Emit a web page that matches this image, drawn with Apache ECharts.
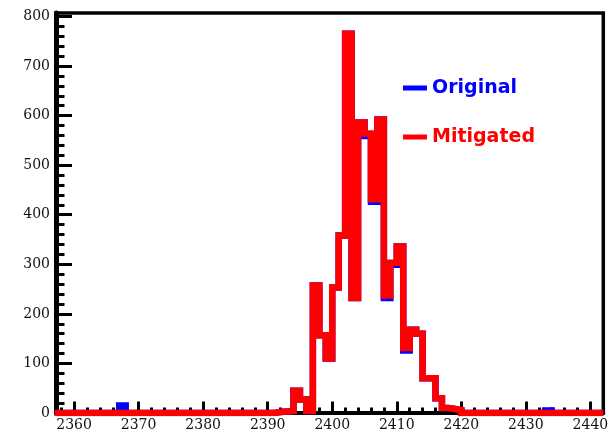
<!DOCTYPE html>
<html><head><meta charset="utf-8">
<script src="https://cdn.jsdelivr.net/npm/echarts@6/dist/echarts.min.js"></script>
<style>html,body{margin:0;padding:0;background:#fff}#c{width:616px;height:434px}</style>
</head><body><div id="c"></div><script>
// Histogram bins: first bin left edge, unit bin width
const binStart = 2357;
const binWidth = 1;
// Original (bins 2357 .. 2441)
const original = [
  0,0,0,0,0,0,0,0,0,0,
  15,
  0,0,0,0,0,0,0,0,0,0,0,0,0,0,0,0,0,0,0,0,0,0,0,
  2,3,4,45,27,4,257,157,110,253,
  358,765,232,586,559,426,592,232,299,336,
  126,168,160,70,70,30,10,8,6,0,
  0,0,0,0,0,0,0,0,0,0,0,0,
  5,
  0,0,0,0,0,0,0,0
];
// Mitigated (bins 2357 .. 2441)
const mitigated = [
  0,0,0,0,0,0,0,0,0,0,
  0,
  0,0,0,0,0,0,0,0,0,0,0,0,0,0,0,0,0,0,0,0,0,0,0,
  2,3,4,45,27,4,257,157,110,253,
  358,765,232,586,564,431,592,237,303,336,
  131,168,160,70,70,30,10,8,6,0,
  0,0,0,0,0,0,0,0,0,0,0,0,
  0,
  0,0,0,0,0,0,0,0
];
const seriesNames = ['Original', 'Mitigated'];
const seriesColors = ['#0000ff', '#ff0000'];
const xRange = [2357.2, 2442];
const yRange = [0, 807];
const xMajorTicks = [2360, 2370, 2380, 2390, 2400, 2410, 2420, 2430, 2440];
const yMajorTicks = [0, 100, 200, 300, 400, 500, 600, 700, 800];
const xMinorTicks = [];
for (let v = 2358; v <= 2442; v += 2) if (v % 10 !== 0) xMinorTicks.push(v);
const yMinorTicks = [];
for (let v = 20; v < 800; v += 20) if (v % 100 !== 0) yMinorTicks.push(v);

function histData(vals) {
  const d = vals.map((v, i) => [binStart + i * binWidth, v]);
  d.push([binStart + vals.length * binWidth, vals[vals.length - 1]]);
  return d;
}

const chart = echarts.init(document.getElementById('c'), null, {renderer: 'canvas'});
const labelFont = {fontFamily: 'DejaVu Serif', fontSize: 14, color: '#111'};
chart.setOption({
  animation: false,
  backgroundColor: '#fff',
  grid: {left: 56, top: 13, right: 12.7, bottom: 21, show: true, borderColor: '#000', borderWidth: 3.5, backgroundColor: 'transparent'},
  legend: {
    orient: 'vertical', left: 403, top: 76, padding: 0,
    itemWidth: 24, itemHeight: 5, itemGap: 25, icon: 'rect',
    textStyle: {fontFamily: 'DejaVu Sans', fontWeight: 'bold', fontSize: 19, lineHeight: 24},
    data: seriesNames.map((n, i) => ({name: n, textStyle: {color: seriesColors[i]}}))
  },
  xAxis: [
    {type: 'value', min: xRange[0], max: xRange[1], position: 'bottom',
     axisLine: {show: true, onZero: false, lineStyle: {color: '#000', width: 4}},
     axisTick: {show: true, inside: true, length: 11.5, customValues: xMajorTicks, lineStyle: {color: '#000', width: 3}},
     axisLabel: {customValues: xMajorTicks, margin: 5, formatter: v => String(v), ...labelFont},
     splitLine: {show: false}},
    {type: 'value', min: xRange[0], max: xRange[1], position: 'bottom',
     axisLine: {show: false},
     axisTick: {show: true, inside: true, length: 5.5, customValues: xMinorTicks, lineStyle: {color: '#000', width: 3}},
     axisLabel: {show: false}, splitLine: {show: false}}
  ],
  yAxis: [
    {type: 'value', min: yRange[0], max: yRange[1], position: 'left',
     axisLine: {show: true, onZero: false, lineStyle: {color: '#000', width: 5}},
     axisTick: {show: true, inside: true, length: 16, customValues: yMajorTicks, lineStyle: {color: '#000', width: 3}},
     axisLabel: {customValues: yMajorTicks, margin: 6, formatter: v => String(v), ...labelFont},
     splitLine: {show: false}},
    {type: 'value', min: yRange[0], max: yRange[1], position: 'left',
     axisLine: {show: false},
     axisTick: {show: true, inside: true, length: 8.5, customValues: yMinorTicks, lineStyle: {color: '#000', width: 3}},
     axisLabel: {show: false}, splitLine: {show: false}}
  ],
  series: [original, mitigated].map((vals, i) => ({
    name: seriesNames[i], type: 'line', step: 'end', xAxisIndex: 0, yAxisIndex: 0,
    data: histData(vals), showSymbol: false, symbol: 'none', clip: true,
    color: seriesColors[i],
    lineStyle: {color: seriesColors[i], width: 6.5, join: 'miter', cap: 'butt'},
    z: 2 + i
  }))
});
</script></body></html>
